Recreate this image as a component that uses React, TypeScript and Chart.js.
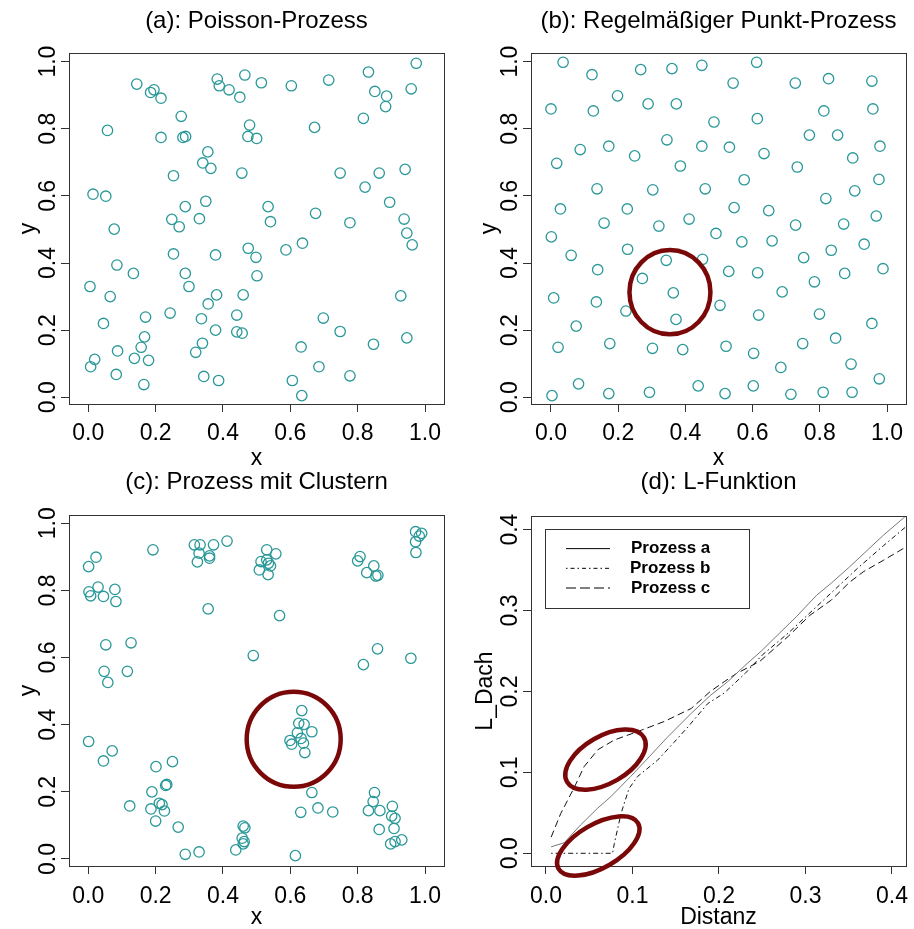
import React, { useEffect, useRef } from "react";
import { Chart, registerables } from "chart.js";

Chart.register(...registerables);

const FONT = "'Liberation Sans', Arial, Helvetica, sans-serif";
Chart.defaults.font.family = FONT;
Chart.defaults.color = "#000";

// ---------- tick labels ----------
const unitTicks = [0, 0.2, 0.4, 0.6, 0.8, 1.0];
const distTicks = [0, 0.1, 0.2, 0.3, 0.4];

// ---------- (a) Poisson process ----------
const poissonX = [0.144, 0.185, 0.195, 0.216, 0.276, 0.057, 0.216, 0.281, 0.289, 0.383, 0.389, 0.418, 0.465, 0.45, 0.514, 0.479, 0.474, 0.5, 0.603, 0.714, 0.672, 0.832, 0.851, 0.886, 0.883, 0.817, 0.974, 0.959, 0.355, 0.34, 0.364, 0.456, 0.253, 0.748, 0.864, 0.941, 0.822, 0.014, 0.052, 0.288, 0.349, 0.534, 0.895, 0.675, 0.077, 0.248, 0.27, 0.33, 0.541, 0.777, 0.938, 0.946, 0.636, 0.962, 0.587, 0.475, 0.498, 0.501, 0.253, 0.378, 0.085, 0.134, 0.288, 0.299, 0.005, 0.065, 0.356, 0.381, 0.46, 0.243, 0.045, 0.17, 0.336, 0.441, 0.378, 0.441, 0.457, 0.698, 0.748, 0.167, 0.157, 0.087, 0.019, 0.007, 0.137, 0.179, 0.339, 0.319, 0.083, 0.165, 0.343, 0.387, 0.632, 0.685, 0.606, 0.634, 0.777, 0.847, 0.928, 0.946];
const poissonY = [0.933, 0.908, 0.916, 0.891, 0.837, 0.795, 0.774, 0.774, 0.777, 0.948, 0.928, 0.916, 0.96, 0.894, 0.937, 0.811, 0.777, 0.771, 0.928, 0.945, 0.804, 0.969, 0.911, 0.897, 0.866, 0.831, 0.995, 0.919, 0.731, 0.698, 0.682, 0.668, 0.66, 0.668, 0.668, 0.679, 0.626, 0.605, 0.599, 0.568, 0.584, 0.568, 0.581, 0.548, 0.501, 0.53, 0.508, 0.532, 0.523, 0.52, 0.531, 0.489, 0.459, 0.454, 0.439, 0.444, 0.417, 0.362, 0.427, 0.424, 0.394, 0.369, 0.369, 0.33, 0.33, 0.3, 0.278, 0.305, 0.305, 0.251, 0.22, 0.239, 0.234, 0.245, 0.2, 0.195, 0.191, 0.236, 0.196, 0.18, 0.149, 0.138, 0.113, 0.091, 0.116, 0.11, 0.161, 0.134, 0.068, 0.038, 0.062, 0.05, 0.15, 0.091, 0.05, 0.005, 0.064, 0.158, 0.302, 0.177];

// ---------- (b) regular process ----------
const regularX = [0.036, 0.122, 0.267, 0.36, 0.449, 0.612, 0.542, 0.727, 0.826, 0.955, 0.0, 0.126, 0.198, 0.289, 0.373, 0.485, 0.614, 0.812, 0.958, 0.769, 0.853, 0.979, 0.087, 0.172, 0.249, 0.345, 0.449, 0.531, 0.634, 0.898, 0.017, 0.385, 0.733, 0.575, 0.976, 0.137, 0.303, 0.459, 0.904, 0.028, 0.227, 0.545, 0.648, 0.818, 0.968, 0.158, 0.321, 0.411, 0.728, 0.871, 0.001, 0.491, 0.568, 0.658, 0.932, 0.06, 0.228, 0.343, 0.451, 0.139, 0.272, 0.364, 0.372, 0.529, 0.615, 0.752, 0.834, 0.988, 0.874, 0.784, 0.688, 0.008, 0.135, 0.223, 0.503, 0.618, 0.799, 0.955, 0.075, 0.021, 0.175, 0.302, 0.392, 0.521, 0.603, 0.749, 0.847, 0.684, 0.893, 0.977, 0.003, 0.082, 0.172, 0.293, 0.438, 0.518, 0.602, 0.714, 0.81, 0.896];
const regularY = [0.998, 0.961, 0.976, 0.979, 0.989, 0.998, 0.936, 0.936, 0.949, 0.942, 0.859, 0.853, 0.898, 0.874, 0.874, 0.82, 0.83, 0.853, 0.859, 0.781, 0.781, 0.748, 0.738, 0.748, 0.719, 0.767, 0.748, 0.745, 0.726, 0.713, 0.697, 0.689, 0.686, 0.648, 0.649, 0.621, 0.618, 0.621, 0.615, 0.561, 0.561, 0.565, 0.556, 0.592, 0.54, 0.519, 0.51, 0.531, 0.513, 0.516, 0.478, 0.488, 0.463, 0.466, 0.456, 0.423, 0.441, 0.408, 0.411, 0.38, 0.354, 0.311, 0.232, 0.375, 0.371, 0.416, 0.438, 0.383, 0.369, 0.344, 0.314, 0.296, 0.284, 0.257, 0.274, 0.245, 0.248, 0.22, 0.212, 0.149, 0.16, 0.146, 0.142, 0.152, 0.131, 0.16, 0.176, 0.089, 0.099, 0.055, 0.005, 0.04, 0.011, 0.015, 0.034, 0.011, 0.034, 0.009, 0.015, 0.015];

// ---------- (c) clustered process ----------
const clusterX = [0.001, 0.023, 0.002, 0.007, 0.029, 0.045, 0.079, 0.082, 0.192, 0.315, 0.332, 0.329, 0.324, 0.36, 0.36, 0.372, 0.412, 0.356, 0.53, 0.557, 0.513, 0.508, 0.535, 0.541, 0.534, 0.53, 0.568, 0.49, 0.807, 0.8, 0.827, 0.848, 0.854, 0.86, 0.972, 0.99, 0.983, 0.972, 0.973, 0.817, 0.859, 0.958, 0.052, 0.127, 0.047, 0.058, 0.116, 0.001, 0.045, 0.071, 0.201, 0.25, 0.233, 0.23, 0.189, 0.211, 0.219, 0.186, 0.226, 0.2, 0.123, 0.267, 0.288, 0.329, 0.438, 0.46, 0.465, 0.457, 0.46, 0.463, 0.615, 0.634, 0.625, 0.641, 0.664, 0.621, 0.599, 0.604, 0.632, 0.639, 0.643, 0.664, 0.631, 0.682, 0.726, 0.85, 0.846, 0.832, 0.866, 0.864, 0.903, 0.901, 0.911, 0.908, 0.898, 0.911, 0.931];
const clusterY = [0.871, 0.899, 0.796, 0.784, 0.81, 0.782, 0.803, 0.767, 0.921, 0.936, 0.936, 0.911, 0.885, 0.903, 0.896, 0.936, 0.947, 0.745, 0.921, 0.909, 0.886, 0.861, 0.881, 0.873, 0.847, 0.891, 0.725, 0.606, 0.901, 0.888, 0.853, 0.873, 0.843, 0.845, 0.975, 0.97, 0.962, 0.945, 0.913, 0.579, 0.626, 0.598, 0.638, 0.644, 0.559, 0.526, 0.559, 0.35, 0.292, 0.322, 0.275, 0.29, 0.222, 0.219, 0.2, 0.166, 0.162, 0.149, 0.143, 0.113, 0.158, 0.095, 0.014, 0.021, 0.027, 0.098, 0.093, 0.062, 0.045, 0.052, 0.01, 0.442, 0.404, 0.401, 0.379, 0.376, 0.353, 0.342, 0.359, 0.345, 0.317, 0.198, 0.139, 0.152, 0.14, 0.198, 0.171, 0.144, 0.144, 0.088, 0.157, 0.128, 0.121, 0.091, 0.045, 0.052, 0.057];

// ---------- (d) L-function ----------
const seriesNames = ["Prozess a", "Prozess b", "Prozess c"];
const distA = [0.006, 0.021, 0.04, 0.06, 0.075, 0.098, 0.12, 0.14, 0.168, 0.19, 0.21, 0.23, 0.249, 0.27, 0.29, 0.313, 0.33, 0.35, 0.37, 0.39, 0.413, 0.42];
const lA = [0.008, 0.013, 0.035, 0.056, 0.07, 0.095, 0.12, 0.143, 0.173, 0.195, 0.212, 0.232, 0.25, 0.272, 0.293, 0.319, 0.334, 0.353, 0.373, 0.393, 0.414, 0.421];
const distB = [0.006, 0.077, 0.079, 0.087, 0.096, 0.106, 0.129, 0.148, 0.164, 0.187, 0.206, 0.23, 0.25, 0.28, 0.3, 0.33, 0.36, 0.39, 0.42];
const lB = [0, 0, 0.012, 0.05, 0.08, 0.095, 0.115, 0.137, 0.156, 0.185, 0.198, 0.222, 0.245, 0.272, 0.292, 0.322, 0.352, 0.38, 0.407];
const distC = [0.006, 0.017, 0.033, 0.044, 0.06, 0.079, 0.11, 0.137, 0.168, 0.19, 0.206, 0.22, 0.247, 0.28, 0.305, 0.33, 0.351, 0.367, 0.39, 0.42];
const lC = [0.02, 0.049, 0.082, 0.107, 0.128, 0.14, 0.152, 0.163, 0.179, 0.2, 0.212, 0.222, 0.237, 0.268, 0.294, 0.313, 0.335, 0.348, 0.362, 0.381];

// ---------- red highlight ellipses (data units) ----------
const annotB = [{ cx: 0.354, cy: 0.313, rx: 0.1205, ry: 0.1255, angle: 0 }];
const annotC = [{ cx: 0.61, cy: 0.3566, rx: 0.1396, ry: 0.1415, angle: 0 }];
const annotD = [
  { cx: 0.0688, cy: 0.1158, rx: 0.0513, ry: 0.029, angle: -30 },
  { cx: 0.0605, cy: 0.009, rx: 0.053, ry: 0.027, angle: -30 },
];

const POINT_COLOR = "#2a9898";
const AXIS_COLOR = "#333";
const RED = "#7b0808";

const zip = (xs: number[], ys: number[]) => xs.map((x, i) => ({ x, y: ys[i] }));

// small legend sample images (line + dash pattern)
function legendSample(color: string, dash: number[]) {
  const c = document.createElement("canvas");
  c.width = 44;
  c.height = 3;
  const g = c.getContext("2d") as CanvasRenderingContext2D;
  g.strokeStyle = color;
  g.lineWidth = 1;
  g.setLineDash(dash);
  g.beginPath();
  g.moveTo(0, 1.5);
  g.lineTo(44, 1.5);
  g.stroke();
  return c;
}

const pointSet = (xs: number[], ys: number[]) => ({
  label: "points",
  data: zip(xs, ys),
  pointRadius: 5.2,
  pointBorderWidth: 1.3,
  pointBorderColor: POINT_COLOR,
  pointBackgroundColor: "rgba(0,0,0,0)",
  showLine: false,
  clip: false,
});

const lineSet = (label: string, xs: number[], ys: number[], color: string, dash: number[], legendDash: number[]) => ({
  label,
  data: zip(xs, ys),
  showLine: true,
  borderColor: color,
  backgroundColor: "rgba(0,0,0,0)",
  borderWidth: 1,
  borderDash: dash,
  pointRadius: 0,
  pointStyle: legendSample("#000", legendDash),
  tension: 0,
});

const framePlugin = {
  id: "rframe",
  beforeDraw(chart: any, _a: any, opts: any) {
    const lg = chart.legend;
    if (!opts || !opts.legend || !lg) return;
    const a = chart.chartArea;
    const L = opts.legend;
    const pad = lg.options.labels.padding;
    const ctx = chart.ctx;
    ctx.save();
    ctx.font = `bold 17px ${FONT}`;
    const w = Math.max(...lg.legendItems.map((it: any) => ctx.measureText(it.text).width));
    ctx.restore();
    lg.left = a.left + L.lineX - pad;
    lg.top = a.top + L.rowTop - pad;
    lg.right = a.left + L.textX + w;
    lg.bottom = lg.top + 300;
    lg.width = lg.right - lg.left;
    lg.height = 300;
  },
  afterDraw(chart: any, _a: any, opts: any) {
    const { ctx, chartArea: a } = chart;
    const al = (v: number) => Math.round(v - 0.5) + 0.5;
    ctx.save();
    ctx.strokeStyle = AXIS_COLOR;
    ctx.lineWidth = 1;
    ctx.strokeRect(al(a.left), al(a.top), al(a.right) - al(a.left), al(a.bottom) - al(a.top));
    if (opts && opts.legend) {
      const F = opts.legend.frame;
      ctx.strokeRect(al(a.left + F.l), al(a.top + F.t), Math.round(F.r - F.l), Math.round(F.b - F.t));
    }
    const xs = chart.scales.x;
    const ys = chart.scales.y;
    const ell = (opts && opts.ellipses) || [];
    ctx.strokeStyle = RED;
    ctx.lineWidth = 4.5;
    for (const e of ell) {
      const px = xs.getPixelForValue(e.cx);
      const py = ys.getPixelForValue(e.cy);
      const rx = Math.abs(xs.getPixelForValue(e.cx + e.rx) - px);
      const ry = Math.abs(ys.getPixelForValue(e.cy + e.ry) - py);
      ctx.beginPath();
      ctx.ellipse(px, py, rx, ry, (e.angle * Math.PI) / 180, 0, Math.PI * 2);
      ctx.stroke();
    }
    ctx.restore();
  },
};

type Spec = any;

function buildConfig(s: Spec) {
  const grid = {
    display: true,
    drawOnChartArea: false,
    drawTicks: true,
    tickLength: 8,
    color: AXIS_COLOR,
    lineWidth: 1,
  };
  const border = { display: true, color: AXIS_COLOR, width: 1 };
  return {
    type: "scatter",
    data: { datasets: s.datasets },
    options: {
      responsive: false,
      animation: false,
      devicePixelRatio: 1,
      events: [],
      layout: { padding: { left: 0, top: 0, right: s.w - s.area.r, bottom: 0 } },
      plugins: {
        tooltip: { enabled: false },
        legend: s.legend
          ? {
              display: true,
              position: "chartArea",
              align: "start",
              labels: {
                usePointStyle: true,
                pointStyleWidth: 44,
                boxHeight: 17,
                padding: 2.7,
                color: "#000",
                textAlign: "right",
                font: { size: 17, weight: "bold", lineHeight: 1 },
              },
            }
          : { display: false },
        title: {
          display: true,
          text: s.title,
          fullSize: false,
          color: "#000",
          font: { size: 24, weight: "normal", lineHeight: 1 },
          padding: { top: s.titleTop, bottom: s.area.t - 24 - s.titleTop },
        },
        rframe: { ellipses: s.ellipses, legend: s.legend },
      },
      scales: {
        x: {
          type: "linear",
          position: "bottom",
          min: s.xMin,
          max: s.xMax,
          afterBuildTicks: (sc: any) => {
            sc.ticks = s.xTicks.map((v: number) => ({ value: v }));
          },
          afterFit: (sc: any) => {
            sc.height = s.h - s.area.b;
          },
          grid,
          border,
          ticks: {
            autoSkip: false,
            minRotation: 0,
            maxRotation: 0,
            padding: 0,
            color: "#000",
            font: { size: 23, lineHeight: s.xTickLH },
            callback: (v: any) => Number(v).toFixed(1),
          },
          title: {
            display: true,
            text: s.xTitle,
            color: "#000",
            font: { size: 23, lineHeight: 1 },
            padding: { top: 0, bottom: s.xTitlePad },
          },
        },
        y: {
          type: "linear",
          position: "left",
          min: s.yMin,
          max: s.yMax,
          afterBuildTicks: (sc: any) => {
            sc.ticks = s.yTicks.map((v: number) => ({ value: v }));
          },
          afterFit: (sc: any) => {
            sc.width = s.area.l;
          },
          grid,
          border,
          ticks: {
            autoSkip: false,
            minRotation: 90,
            maxRotation: 90,
            crossAlign: "center",
            padding: -3.5,
            color: "#000",
            font: { size: 23, lineHeight: 1 },
            callback: (v: any) => Number(v).toFixed(1),
          },
          title: {
            display: true,
            text: s.yTitle,
            color: "#000",
            font: { size: 23, lineHeight: 1 },
            padding: { top: s.yTitlePad, bottom: 0 },
          },
        },
      },
    },
    plugins: [framePlugin],
  };
}

const panels: Spec[] = [
  {
    key: "a",
    x: 0, y: 0, w: 457, h: 474,
    area: { l: 69, r: 444, t: 53, b: 404 },
    title: "(a): Poisson-Prozess", titleTop: 9.5,
    xMin: -0.0573, xMax: 1.0564, yMin: -0.02, yMax: 1.0256,
    xTicks: unitTicks, yTicks: unitTicks, xTickLH: 1.88,
    xTitle: "x", yTitle: "y", xTitlePad: 4, yTitlePad: 17.5,
    datasets: [pointSet(poissonX, poissonY)],
    ellipses: [],
  },
  {
    key: "b",
    x: 457, y: 0, w: 457, h: 474,
    area: { l: 74, r: 449, t: 53, b: 404 },
    title: "(b): Regelmäßiger Punkt-Prozess", titleTop: 9.5,
    xMin: -0.0595, xMax: 1.0565, yMin: -0.02, yMax: 1.0256,
    xTicks: unitTicks, yTicks: unitTicks, xTickLH: 1.88,
    xTitle: "x", yTitle: "y", xTitlePad: 4, yTitlePad: 21,
    datasets: [pointSet(regularX, regularY)],
    ellipses: annotB,
  },
  {
    key: "c",
    x: 0, y: 460, w: 457, h: 469,
    area: { l: 69, r: 444, t: 55, b: 406 },
    title: "(c): Prozess mit Clustern", titleTop: 10.5,
    xMin: -0.0573, xMax: 1.0564, yMin: -0.0209, yMax: 1.0247,
    xTicks: unitTicks, yTicks: unitTicks, xTickLH: 1.93,
    xTitle: "x", yTitle: "y", xTitlePad: 0, yTitlePad: 17.5,
    datasets: [pointSet(clusterX, clusterY)],
    ellipses: annotC,
  },
  {
    key: "d",
    x: 457, y: 460, w: 457, h: 469,
    area: { l: 74, r: 449, t: 56, b: 406 },
    title: "(d): L-Funktion", titleTop: 10.5,
    xMin: -0.0173, xMax: 0.4162, yMin: -0.0157, yMax: 0.4168,
    xTicks: distTicks, yTicks: distTicks, xTickLH: 1.93,
    xTitle: "Distanz", yTitle: "L_Dach", xTitlePad: 0, yTitlePad: 17.5,
    datasets: [
      lineSet(seriesNames[0], distA, lA, "#777", [], []),
      lineSet(seriesNames[1], distB, lB, "#111", [1.5, 3, 5, 3], [1.5, 3, 4, 3]),
      lineSet(seriesNames[2], distC, lC, "#111", [7, 4], [10, 4]),
    ],
    ellipses: annotD,
    legend: {
      lineX: 35,
      rowTop: 24.1,
      textX: 99,
      frame: { l: 14, t: 13.3, r: 218, b: 92 },
    },
  },
];

function Panel({ spec }: { spec: Spec }) {
  const ref = useRef<HTMLCanvasElement | null>(null);
  useEffect(() => {
    const chart = new Chart(ref.current as HTMLCanvasElement, buildConfig(spec) as any);
    return () => chart.destroy();
  }, [spec]);
  return (
    <canvas
      ref={ref}
      width={spec.w}
      height={spec.h}
      style={{ position: "absolute", left: spec.x, top: spec.y, width: spec.w, height: spec.h }}
    />
  );
}

export default function App() {
  return (
    <div style={{ position: "absolute", left: 0, top: 0, width: 914, height: 929, background: "#fff", overflow: "hidden" }}>
      {panels.map((p) => (
        <Panel key={p.key} spec={p} />
      ))}
    </div>
  );
}
